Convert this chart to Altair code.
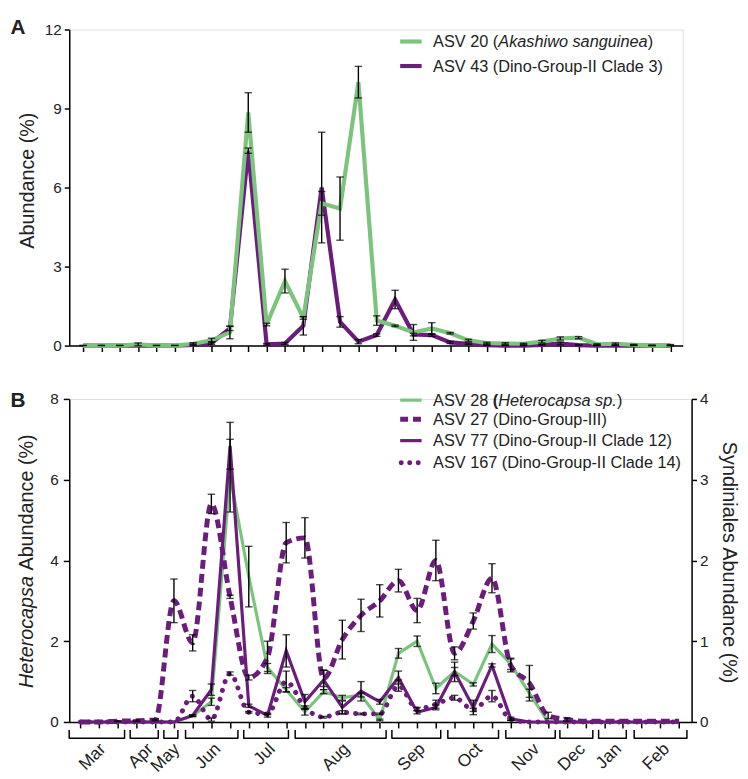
import altair as alt
import pandas as pd

FONT = "Liberation Sans"
GREEN = "#7cc47e"
PURPLE = "#6b1d7c"
INK = "#222222"

# 33 sampling occasions along the x axis
sample = list(range(33))

# ---------------- Panel A : Abundance (%) ----------------
asv20 = [0.0, 0.0, 0.0, 0.05, 0.0, 0.0, 0.07, 0.2, 0.5, 8.85, 0.8, 2.45, 1.05, 5.4, 5.2, 10.0,
         0.95, 0.75, 0.5, 0.65, 0.47, 0.2, 0.1, 0.08, 0.07, 0.15, 0.27, 0.3, 0.05, 0.07, 0.03, 0.0, 0.02]
asv20_err = [0.01, 0.01, 0.01, 0.05, 0.01, 0.01, 0.04, 0.08, 0.24, 0.75, 0.05, 0.45, 0.05, 0.45, 1.2, 0.6,
             0.18, 0.03, 0.3, 0.22, 0.03, 0.04, 0.03, 0.03, 0.02, 0.05, 0.06, 0.04, 0.02, 0.03, 0.02, 0.01, 0.02]
asv43 = [0.0, 0.0, 0.0, 0.0, 0.0, 0.0, 0.03, 0.1, 0.65, 7.4, 0.05, 0.08, 0.75, 6.0, 0.9, 0.15,
         0.4, 1.75, 0.42, 0.4, 0.12, 0.07, 0.02, 0.0, 0.0, 0.03, 0.08, 0.02, 0.0, 0.0, 0.0, 0.0, 0.0]
asv43_err = [0.0, 0.0, 0.0, 0.0, 0.0, 0.0, 0.03, 0.05, 0.08, 0.1, 0.03, 0.04, 0.35, 2.1, 0.2, 0.08,
             0.05, 0.35, 0.05, 0.05, 0.04, 0.03, 0.02, 0.01, 0.01, 0.02, 0.05, 0.02, 0.01, 0.01, 0.01, 0.01, 0.01]

# ---------------- Panel B ----------------
# Heterocapsa abundance (%) - left axis
asv28 = [0, 0, 0, 0, 0, 0, 0.15, 0.5, 6.1, 3.6, 1.35, 0.8, 0.25, 0.75, 0.6, 0.67, 0.05,
         1.7, 2.0, 0.83, 1.25, 0.93, 1.93, 1.44, 0.71, 0, 0, 0, 0, 0, 0, 0, 0]
asv28_err = [0, 0, 0, 0, 0, 0, 0.02, 0.09, 0.9, 0.75, 0.1, 0.05, 0.08, 0.05, 0.06, 0.05, 0.02,
             0.12, 0.13, 0.13, 0.1, 0.04, 0.21, 0.14, 0.1, 0, 0, 0, 0, 0, 0, 0, 0]
# Syndiniales abundance (%) - right axis
asv27 = [0, 0, 0.01, 0.015, 0.025, 1.5, 0.98, 2.7, 1.55, 0.55, 0.8, 2.22, 2.28, 0.54, 1.02, 1.32, 1.5,
         1.75, 1.38, 2.0, 0.85, 1.25, 1.78, 0.7, 0.48, 0.08, 0.03, 0.01, 0.01, 0.01, 0.01, 0.01, 0.01]
asv27_err = [0, 0, 0.005, 0.01, 0.01, 0.27, 0.1, 0.12, 0.02, 0.03, 0.2, 0.25, 0.25, 0.1, 0.24, 0.2, 0.2,
             0.14, 0.15, 0.25, 0.08, 0.1, 0.18, 0.08, 0.22, 0.04, 0.02, 0, 0, 0, 0, 0, 0]
asv77 = [0, 0, 0, 0, 0, 0, 0.08, 0.4, 3.42, 0.2, 0.08, 0.88, 0.25, 0.52, 0.18, 0.38, 0.25,
         0.55, 0.12, 0.18, 0.62, 0.18, 0.7, 0.04, 0, 0, 0, 0, 0, 0, 0, 0, 0]
asv77_err = [0, 0, 0, 0, 0, 0, 0.01, 0.07, 0.29, 0.02, 0.02, 0.2, 0.09, 0.12, 0.08, 0.12, 0.03,
             0.08, 0.02, 0.03, 0.12, 0.09, 0.02, 0.02, 0, 0, 0, 0, 0, 0, 0, 0, 0]
asv167 = [0, 0, 0, 0, 0, 0, 0.32, 0.03, 0.6, 0.12, 0.1, 0.5, 0.18, 0.06, 0.12, 0.1, 0.1,
          0.45, 0.16, 0.22, 0.3, 0.15, 0.32, 0.03, 0, 0, 0, 0, 0, 0, 0, 0, 0]
asv167_err = [0, 0, 0, 0, 0, 0, 0.07, 0.02, 0.02, 0.01, 0.01, 0.13, 0.02, 0.01, 0.02, 0.01, 0.01,
              0.07, 0.02, 0.05, 0.03, 0.02, 0.07, 0.01, 0, 0, 0, 0, 0, 0, 0, 0, 0]

# month spans (in sampling-index units)
months = ["Mar", "Apr", "May", "Jun", "Jul", "Aug", "Sep", "Oct", "Nov", "Dec", "Jan", "Feb"]
month_start = [-0.6, 2.66, 4.46, 5.62, 8.73, 11.48, 16.65, 19.64, 22.74, 25.63, 27.7, 29.6]
month_end = [2.36, 4.16, 5.21, 8.42, 11.12, 16.34, 19.26, 22.35, 25.38, 27.39, 29.18, 32.42]

WA, HA = 621, 320
WB, HB = 630, 327


def frame(vals, errs):
    df = pd.DataFrame({"idx": sample, "v": vals, "e": errs})
    df["lo"] = (df["v"] - df["e"]).clip(lower=0)
    df["hi"] = df["v"] + df["e"]
    return df


dummy = pd.DataFrame({"d": [0]})


def text(t, x, y, size=16.5, style="normal", weight="normal", align="left",
         baseline="alphabetic", angle=0):
    return alt.Chart(dummy).mark_text(
        text=t, font=FONT, fontSize=size, fontStyle=style, fontWeight=weight,
        align=align, baseline=baseline, angle=angle, color=INK
    ).encode(x=alt.value(x), y=alt.value(y))


def swatch(x1, x2, y, color, width, dash=None, cap="butt"):
    kw = dict(color=color, strokeWidth=width, strokeCap=cap)
    if dash:
        kw["strokeDash"] = dash
    return alt.Chart(dummy).mark_rule(**kw).encode(
        x=alt.value(x1), x2=alt.value(x2), y=alt.value(y))


def xaxis():
    return alt.Axis(values=sample, labels=False, title=None, grid=False,
                    domainColor="black", domainWidth=1.5, tickColor="black",
                    tickWidth=1.5, tickSize=6)


def yaxis(vals, orient="left", pad=3, tsize=5):
    return alt.Axis(values=vals, title=None, grid=False, orient=orient,
                    domainColor="black", domainWidth=1.5, tickColor="black",
                    tickWidth=1.5, tickSize=tsize, labelFontSize=15.5, labelFont=FONT,
                    labelColor=INK, labelPadding=pad)


def errbars(df, x, yscale, axis=None):
    d = df[df["e"] > 0]
    base = alt.Chart(d)
    r = base.mark_rule(color="black", strokeWidth=1.4).encode(
        x=x, y=alt.Y("lo:Q", scale=yscale, axis=axis), y2="hi:Q")
    t1 = base.mark_tick(orient="horizontal", color="black", size=7.5, thickness=1.4).encode(
        x=x, y=alt.Y("lo:Q", scale=yscale, axis=axis))
    t2 = base.mark_tick(orient="horizontal", color="black", size=7.5, thickness=1.4).encode(
        x=x, y=alt.Y("hi:Q", scale=yscale, axis=axis))
    return [r, t1, t2]


# ---------------- Panel A ----------------
xA = alt.X("idx:Q", scale=alt.Scale(domain=[-0.753, 32.67], nice=False, zero=False), axis=xaxis())
ysA = alt.Scale(domain=[0, 12], nice=False)
yaxA = yaxis([0, 3, 6, 9, 12])

dA20 = frame(asv20, asv20_err)
dA43 = frame(asv43, asv43_err)

layersA = [
    alt.Chart(dA43).mark_line(color=PURPLE, strokeWidth=4.2).encode(
        x=xA, y=alt.Y("v:Q", scale=ysA, axis=yaxA)),
    alt.Chart(dA20).mark_line(color=GREEN, strokeWidth=4.2).encode(
        x=xA, y=alt.Y("v:Q", scale=ysA, axis=yaxA)),
]
layersA += errbars(dA43, xA, ysA, yaxA) + errbars(dA20, xA, ysA, yaxA)
layersA += [
    text("A", -59.5, -12.5, size=21, weight="bold", baseline="top"),
    text("Abundance (%)", -36, 153, size=20, align="center", angle=270),
    swatch(335, 356.7, 12.2, GREEN, 4.2),
    swatch(335, 356.7, 37, PURPLE, 4.2),
    text("ASV 20 (", 368.3, 18),
    text("Akashiwo sanguinea", 434.3, 18, style="italic"),
    text(")", 585.6, 18),
    text("ASV 43 (Dino-Group-II Clade 3)", 368.3, 43),
]
panelA = alt.layer(*layersA).properties(width=WA, height=HA)

# ---------------- Panel B ----------------
xB = alt.X("idx:Q", scale=alt.Scale(domain=[-0.597, 32.67], nice=False, zero=False), axis=xaxis())
ysL = alt.Scale(domain=[0, 8], nice=False)
ysR = alt.Scale(domain=[0, 4], nice=False)

d28 = frame(asv28, asv28_err)
d27 = frame(asv27, asv27_err)
d77 = frame(asv77, asv77_err)
d167 = frame(asv167, asv167_err)

layersB = [
    alt.Chart(d28).mark_line(color=GREEN, strokeWidth=3.2).encode(
        x=xB, y=alt.Y("v:Q", scale=ysL, axis=yaxis([0, 2, 4, 6, 8], pad=5, tsize=6))),
    alt.Chart(d77).mark_line(color=PURPLE, strokeWidth=3.2).encode(
        x=xB, y=alt.Y("v:Q", scale=ysR, axis=None)),
    alt.Chart(d167).mark_line(color=PURPLE, strokeWidth=5, strokeDash=[0.1, 9],
                              strokeCap="round", interpolate="monotone").encode(
        x=xB, y=alt.Y("v:Q", scale=ysR, axis=None)),
    alt.Chart(d27).mark_line(color=PURPLE, strokeWidth=5, strokeDash=[9, 5],
                             interpolate="monotone").encode(
        x=xB, y=alt.Y("v:Q", scale=ysR, axis=yaxis([0, 1, 2, 3, 4], orient="right", pad=3, tsize=5))),
]
layersB += errbars(d28, xB, ysL)
layersB += errbars(d27, xB, ysR) + errbars(d77, xB, ysR) + errbars(d167, xB, ysR)

dm = pd.DataFrame({"month": months, "start": month_start, "end": month_end})
dm["mid"] = (dm["start"] + dm["end"]) / 2
xS = alt.X("start:Q", scale=alt.Scale(domain=[-0.597, 32.67], nice=False, zero=False), axis=xaxis())
xE = alt.X("end:Q", scale=alt.Scale(domain=[-0.597, 32.67], nice=False, zero=False), axis=xaxis())
xM = alt.X("mid:Q", scale=alt.Scale(domain=[-0.597, 32.67], nice=False, zero=False), axis=xaxis())
layersB += [
    alt.Chart(dm).mark_rule(color="black", strokeWidth=1.5).encode(
        x=xS, x2="end:Q", y=alt.value(HB + 16.5)),
    alt.Chart(dm).mark_rule(color="black", strokeWidth=1.5).encode(
        x=xS, y=alt.value(HB + 8), y2=alt.value(HB + 17)),
    alt.Chart(dm).mark_rule(color="black", strokeWidth=1.5).encode(
        x=xE, y=alt.value(HB + 8), y2=alt.value(HB + 17)),
    alt.Chart(dm).mark_text(font=FONT, fontSize=17.5, align="right", baseline="top",
                            angle=315, color=INK).encode(
        x=xM, y=alt.value(HB + 18.5), text="month:N"),
    text("B", -59.5, -8.8, size=21, weight="bold", baseline="top"),
    text("Heterocapsa", -36.5, 292.7, size=20, style="italic", angle=270),
    text("Abundance (%)", -36.5, 173.7, size=20, angle=270),
    text("Syndiniales Abundance (%)", 662, 165.7, size=20, align="center", angle=90),
    swatch(335, 356.7, 1.2, GREEN, 3.2),
    swatch(335, 356.7, 20.5, PURPLE, 5, dash=[8, 5]),
    swatch(335, 356.7, 42.2, PURPLE, 3.2),
    swatch(336, 358, 64.5, PURPLE, 5, dash=[0.1, 8.5], cap="round"),
    text("ASV 28", 368.3, 6.7),
    text("(", 428.8, 6.7, weight="bold"),
    text("Heterocapsa sp.", 434.3, 6.7, style="italic"),
    text(")", 554.4, 6.7),
    text("ASV 27 (Dino-Group-III)", 368.3, 26),
    text("ASV 77 (Dino-Group-II Clade 12)", 368.3, 47.7),
    text("ASV 167 (Dino-Group-II Clade 14)", 368.3, 70),
]
panelB = alt.layer(*layersB).resolve_scale(y="independent").properties(width=WB, height=HB)

chart = alt.vconcat(panelA, panelB, spacing=35).properties(
    padding={"left": 2, "top": 4, "right": 0, "bottom": 0}
).configure_view(stroke=None).configure(font=FONT)

chart.save("out.html", embed_options={"renderer": "svg", "actions": False})
